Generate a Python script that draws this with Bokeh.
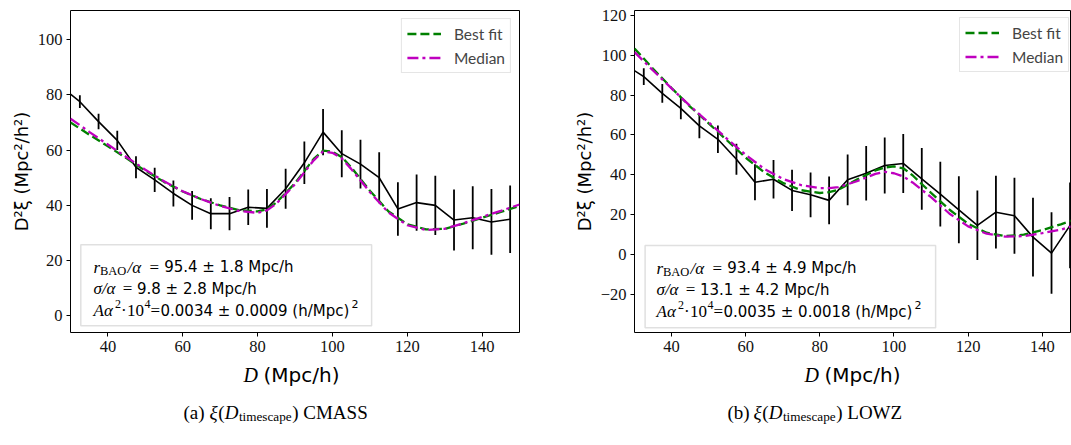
import math
from bokeh.plotting import figure
from bokeh.models import Range1d, FixedTicker, Legend, LegendItem, BoxAnnotation
from bokeh.layouts import row, column
from bokeh.core.properties import value
from bokeh.embed import file_html
from bokeh.resources import INLINE

# ---------------- data ----------------
d_bins = [27.5, 32.5, 37.5, 42.5, 47.5, 52.5, 57.5, 62.5, 67.5, 72.5, 77.5, 82.5,
          87.5, 92.5, 97.5, 102.5, 107.5, 112.5, 117.5, 122.5, 127.5, 132.5, 137.5,
          142.5, 147.5]

cmass_xi = [83.0, 77.5, 70.3, 63.5, 53.8, 49.2, 44.3, 40.0, 37.0, 37.0, 39.3, 38.9,
            46.0, 55.4, 66.5, 58.7, 54.9, 50.0, 38.7, 41.0, 40.0, 34.7, 35.5, 34.0, 35.0]
cmass_err = [2.0, 2.3, 2.8, 3.5, 4.0, 4.4, 4.7, 5.2, 5.6, 6.0, 6.4, 7.0, 7.2, 7.7,
             8.4, 8.5, 8.8, 9.2, 9.7, 10.2, 10.7, 11.0, 11.4, 11.9, 12.2]

lowz_xi = [95.2, 89.2, 80.8, 73.3, 64.5, 57.8, 47.8, 36.3, 37.8, 32.2, 30.0, 27.2,
           37.5, 40.8, 44.7, 45.7, 38.0, 30.3, 22.5, 14.7, 21.3, 19.5, 8.8, 0.8, 14.7]
lowz_err = [3.8, 4.2, 4.7, 5.4, 6.2, 6.9, 7.8, 9.0, 9.7, 10.3, 11.2, 12.0, 12.7, 13.7,
            14.0, 14.8, 15.5, 16.2, 16.8, 17.4, 18.2, 19.0, 19.7, 20.4, 21.5]

fit_d = [30, 35, 40, 45, 50, 55, 60, 65, 70, 75, 80, 82.5, 85, 90, 95, 97.5, 100,
         102.5, 105, 110, 115, 120, 125, 130, 135, 140, 145, 150]
cmass_best = [70.0, 65.6, 61.4, 57.0, 52.5, 48.5, 45.0, 42.2, 40.0, 38.3, 37.8, 38.6,
              41.0, 48.0, 56.8, 59.8, 59.4, 57.5, 53.8, 45.3, 37.8, 33.2, 31.3, 31.5,
              33.4, 35.5, 37.6, 39.8]
cmass_median = [71.4, 66.6, 62.0, 57.4, 52.9, 48.7, 45.1, 42.2, 39.8, 38.0, 37.3, 38.2,
                40.6, 47.6, 56.3, 59.5, 59.0, 57.0, 53.2, 44.8, 37.4, 32.8, 31.1, 31.5,
                33.5, 35.8, 38.0, 40.3]
lowz_best = [103.3, 93.2, 83.5, 74.2, 65.8, 57.2, 48.6, 41.3, 36.0, 32.3, 30.9, 31.3,
             32.5, 37.6, 42.2, 43.7, 44.2, 43.3, 39.8, 31.0, 22.5, 15.5, 11.0, 9.3,
             10.0, 12.3, 15.2, 18.5]
lowz_median = [101.5, 92.3, 83.3, 74.5, 66.3, 58.0, 50.0, 43.0, 38.0, 34.8, 33.3, 33.3,
               33.8, 36.8, 40.5, 41.5, 40.8, 39.2, 36.2, 28.8, 20.5, 14.2, 10.5, 9.0,
               9.3, 10.8, 12.5, 15.5]

x_ticks = [40, 60, 80, 100, 120, 140]
cmass_yticks = [0, 20, 40, 60, 80, 100]
lowz_yticks = [-20, 0, 20, 40, 60, 80, 100, 120]

legend_labels = ["Best fit", "Median"]
y_axis_label = "D\u00b2\u03be (Mpc\u00b2/h\u00b2)"
cmass_params = ["95.4 \u00b1 1.8 Mpc/h", "9.8 \u00b1 2.8 Mpc/h", "0.0034 \u00b1 0.0009 (h/Mpc)"]
lowz_params = ["93.4 \u00b1 4.9 Mpc/h", "13.1 \u00b1 4.2 Mpc/h", "0.0035 \u00b1 0.0018 (h/Mpc)"]
captions = [("(a) ", ") CMASS"), ("(b) ", ") LOWZ")]

SERIF = "Liberation Serif"
SANS = "DejaVu Sans"
LEG_FONT = "Lato"
GREEN = "#008000"
MAGENTA = "#bf00bf"


def make_panel(width, mbl, mbr, x_end, y0, y1, yticks):
    p = figure(width=width, height=362, x_range=Range1d(30, x_end),
               y_range=Range1d(y0, y1), output_backend="svg", toolbar_location=None,
               min_border_left=mbl, min_border_right=mbr, min_border_top=10,
               min_border_bottom=30)
    p.xgrid.visible = False
    p.ygrid.visible = False
    p.outline_line_color = "black"
    p.outline_line_alpha = 1.0
    p.outline_line_width = 1
    p.background_fill_color = "white"
    p.border_fill_color = "white"
    p.xaxis.ticker = FixedTicker(ticks=x_ticks)
    p.yaxis.ticker = FixedTicker(ticks=yticks)
    p.yaxis.major_label_overrides = {t: (("\u2212" + str(-t)) if t < 0 else str(t)) for t in yticks}
    for ax in (p.xaxis[0], p.yaxis[0]):
        ax.axis_line_color = None
        ax.major_tick_out = 4
        ax.major_tick_in = 0
        ax.minor_tick_out = 0
        ax.minor_tick_in = 0
        ax.major_tick_line_color = "black"
        ax.major_label_text_font = SERIF
        ax.major_label_text_font_size = "16.5px"
        ax.major_label_text_color = "#111111"
        ax.major_label_standoff = 4
    p.yaxis.axis_label = y_axis_label
    p.yaxis.axis_label_text_font = SANS
    p.yaxis.axis_label_text_font_size = "18px"
    p.yaxis.axis_label_text_font_style = "normal"
    p.yaxis.axis_label_text_color = "black"
    p.yaxis.axis_label_standoff = 3
    return p


def draw_data(p, xi, err, best, median, loc, margin):
    lo = [v - e for v, e in zip(xi, err)]
    hi = [v + e for v, e in zip(xi, err)]
    p.segment(x0=d_bins, y0=lo, x1=d_bins, y1=hi, line_color="black", line_width=1.8)
    p.line(d_bins, xi, line_color="black", line_width=1.6)
    g = p.line(fit_d, best, line_color=GREEN, line_width=2.3, line_dash="9 4")
    m = p.line(fit_d, median, line_color=MAGENTA, line_width=2.3, line_dash="11 4 3 4")
    leg = Legend(items=[LegendItem(label=legend_labels[0], renderers=[g]),
                        LegendItem(label=legend_labels[1], renderers=[m])],
                 location=loc, margin=margin, padding=5, spacing=5,
                 glyph_width=34, glyph_height=19, label_height=19, label_standoff=13,
                 label_text_font=LEG_FONT, label_text_font_size="15.5px",
                 border_line_color="#cccccc", border_line_width=1,
                 background_fill_color="white", background_fill_alpha=0.8)
    p.add_layout(leg)


def converters(fl, ft, fw, fh, x0, x1, y0, y1):
    def fx(px):
        return x0 + (px - fl) * (x1 - x0) / fw
    def fy(py):
        return y1 - (py - ft) * (y1 - y0) / fh
    return fx, fy


def put(p, fx, fy, px, py, s, font, size, style="normal"):
    p.text(x=[fx(px)], y=[fy(py)], text=[s], text_font=value(font),
           text_font_size=size, text_font_style=style, text_color="black",
           text_align="left", text_baseline="alphabetic")


def param_box(p, fx, fy, box, tl, base, params):
    p.add_layout(BoxAnnotation(left=fx(box[0]), right=fx(box[2]), top=fy(box[1]),
                               bottom=fy(box[3]), fill_color="white", fill_alpha=0.85,
                               line_color="#999999", line_width=1.5, level="underlay"))
    b1, b2, b3 = base
    put(p, fx, fy, tl + 0, b1, "r", SERIF, "17px", "italic")
    put(p, fx, fy, tl + 6.5, b1 + 3.5, "BAO", SERIF, "12.5px")
    put(p, fx, fy, tl + 34, b1, "/\u03b1", SERIF, "17px", "italic")
    put(p, fx, fy, tl + 56, b1, "=", SERIF, "17px")
    put(p, fx, fy, tl + 70.7, b1, params[0], SANS, "15px")
    put(p, fx, fy, tl + 0, b2, "\u03c3/\u03b1", SERIF, "17px", "italic")
    put(p, fx, fy, tl + 29.3, b2, "=", SERIF, "17px")
    put(p, fx, fy, tl + 43.5, b2, params[1], SANS, "15px")
    put(p, fx, fy, tl + 0, b3, "A\u03b1", SERIF, "17px", "italic")
    put(p, fx, fy, tl + 21.5, b3 - 7, "2", SERIF, "12px")
    put(p, fx, fy, tl + 27.5, b3, "\u00b7", SERIF, "17px")
    put(p, fx, fy, tl + 33.5, b3, "10", SERIF, "17px")
    put(p, fx, fy, tl + 51, b3 - 7, "4", SERIF, "12px")
    put(p, fx, fy, tl + 57, b3, "=", SERIF, "17px")
    put(p, fx, fy, tl + 67, b3, params[2], SANS, "15px")
    put(p, fx, fy, tl + 258, b3 - 7, "2", SANS, "11px")


# ---------------- left panel (CMASS) ----------------
p1 = make_panel(539, 70, 20, 150, -6, 110.5, cmass_yticks)
draw_data(p1, cmass_xi, cmass_err, cmass_best, cmass_median, "top_right", 8)
fx1, fy1 = converters(70, 10, 449, 322, 30, 150, -6, 110.5)
param_box(p1, fx1, fy1, (80.3, 244.3, 371.1, 325.3), 93.0, (266.7, 288.3, 310.0), cmass_params)

# ---------------- right panel (LOWZ) ----------------
p2 = make_panel(532, 95, 1, 147.62, -39, 122.35, lowz_yticks)
draw_data(p2, lowz_xi, lowz_err, lowz_best, lowz_median, (325, 260), 0)
fx2, fy2 = converters(634, 10, 436, 322, 30, 147.62, -39, 122.35)
param_box(p2, fx2, fy2, (644.6, 245.0, 935.1, 327.3), 656.0, (267.5, 289.2, 311.0), lowz_params)

# ---------------- x labels and captions ----------------
CAP_TOP = 362
cap = figure(width=1071, height=83, x_range=Range1d(0, 1071), y_range=Range1d(83, 0),
             output_backend="svg", toolbar_location=None, min_border=0)
cap.axis.visible = False
cap.xgrid.visible = False
cap.ygrid.visible = False
cap.outline_line_color = None
cap.background_fill_color = "white"
cap.border_fill_color = "white"


def cput(px, py, s, font, size, style="normal"):
    cap.text(x=[px], y=[py - CAP_TOP], text=[s], text_font=value(font),
             text_font_size=size, text_font_style=style, text_color="black",
             text_align="left", text_baseline="alphabetic")


for cx in (295, 856):
    cput(cx - 52, 374, "D", SERIF, "20px", "italic")
    cput(cx - 32, 374, "(Mpc/h)", SANS, "20px")

for (pre, post), x0 in zip(captions, (183, 727)):
    cput(x0, 412, pre, SERIF, "19px")
    cput(x0 + 26, 412, "\u03be", SERIF, "19px", "italic")
    cput(x0 + 34.8, 412, "(", SERIF, "19px")
    cput(x0 + 41.2, 412, "D", SERIF, "19px", "italic")
    cput(x0 + 55.4, 416.2, "timescape", SERIF, "13.2px")
    cput(x0 + 108.7, 412, post, SERIF, "19px")

layout = column(row(p1, p2), cap)
open("out.html", "w").write(file_html(layout, INLINE))
